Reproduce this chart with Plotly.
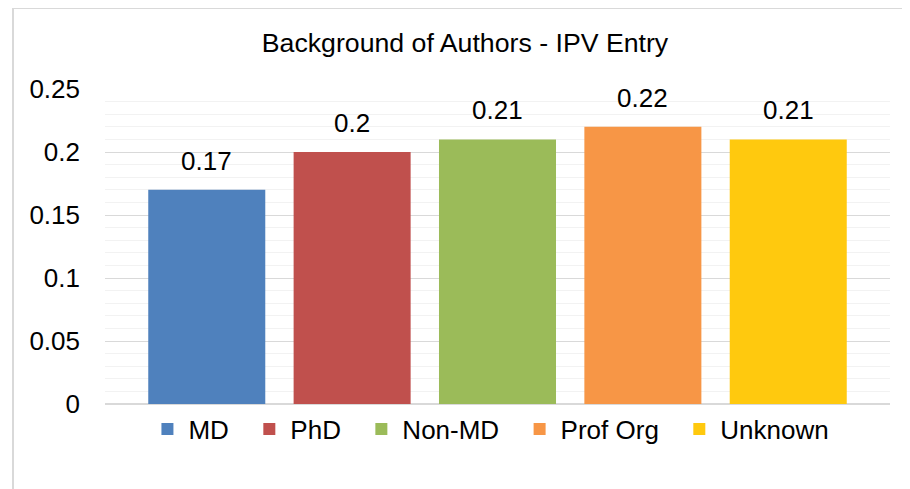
import plotly.graph_objects as go

categories = ["MD", "PhD", "Non-MD", "Prof Org", "Unknown"]
values = [0.17, 0.2, 0.21, 0.22, 0.21]
colors = ["#4F81BD", "#C0504D", "#9BBB59", "#F79646", "#FFC90E"]
y_ticks = [0, 0.05, 0.1, 0.15, 0.2, 0.25]
y_tick_labels = ["0", "0.05", "0.1", "0.15", "0.2", "0.25"]

FONT = "Liberation Sans, Arial, sans-serif"
NB = "\u00a0"

# page is offset by an 8px body margin
L, T, W, H = 97, 81, 785, 315
B = 489 - T - H
R = 910 - L - W

fig = go.Figure()
n = len(categories)
for i, (c, v, col) in enumerate(zip(categories, values, colors)):
    label = c + (NB * 2 if i < n - 1 else "")
    fig.add_trace(go.Bar(
        x=[i], y=[v], name=label, marker=dict(color=col, line=dict(width=0)),
        width=0.805, hoverinfo="y",
    ))
    fig.add_annotation(x=i, y=v, text=f"{v:g}", showarrow=False,
                       xanchor="center", yanchor="bottom", yshift=12,
                       font=dict(family=FONT, size=26, color="#000000"))

fig.update_layout(
    width=910, height=489,
    margin=dict(l=L, r=R, t=T, b=B),
    paper_bgcolor="white", plot_bgcolor="white",
    barmode="overlay",
    title=dict(text="Background of Authors - IPV Entry", x=457 / 910, xanchor="center",
               y=1 - 35 / 489, yanchor="middle",
               font=dict(family=FONT, size=26.7, color="#000000")),
    showlegend=True,
    legend=dict(orientation="h", x=0.491, xanchor="center", y=-0.005, yanchor="top",
                font=dict(family=FONT, size=26, color="#000000"),
                traceorder="normal", itemwidth=32,
                bgcolor="rgba(0,0,0,0)"),
    xaxis=dict(range=[-0.7, 4.7], showticklabels=False, showgrid=False,
               zeroline=False, showline=False, ticks=""),
    yaxis=dict(range=[0, 0.25], tickvals=y_ticks, ticktext=y_tick_labels,
               tickfont=dict(family=FONT, size=26, color="#000000"),
               showgrid=True, gridcolor="#D9D9D9", gridwidth=1.3,
               zeroline=True, zerolinecolor="#D9D9D9", zerolinewidth=1.5,
               showline=False, ticks="", ticklabelstandoff=24,
               minor=dict(dtick=0.01, showgrid=True, gridcolor="#F2F2F2", gridwidth=1.3)),
    shapes=[
        dict(type="line", xref="paper", yref="paper",
             x0=(5 - L) / W, x1=(910 - L) / W, y0=(489 - B - 0.5) / H, y1=(489 - B - 0.5) / H,
             line=dict(color="#D9D9D9", width=1)),
        dict(type="line", xref="paper", yref="paper",
             x0=(5 - L) / W, x1=(5 - L) / W, y0=(489 - B) / H, y1=-B / H,
             line=dict(color="#D9D9D9", width=2)),
    ],
)

fig.write_html("out.html")
